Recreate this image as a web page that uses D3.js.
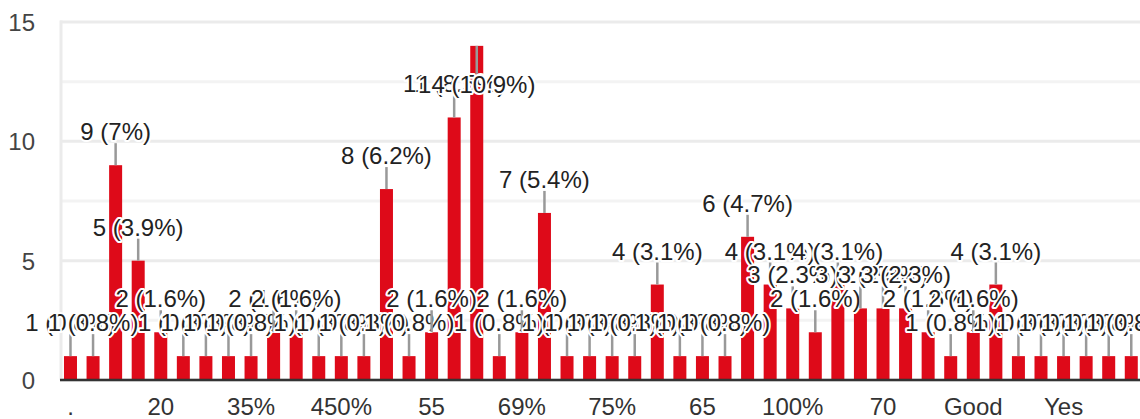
<!DOCTYPE html>
<html>
<head>
<meta charset="utf-8">
<script src="https://cdn.jsdelivr.net/npm/d3@7"></script>
<style>
  html, body { margin: 0; padding: 0; background: #fff; }
  svg { display: block; }
  text { font-family: "Liberation Sans", Arial, sans-serif; }
</style>
</head>
<body>
<svg id="chart" width="1140" height="419"></svg>
<script>
// Response counts, one per answer (left to right)
const counts = [1, 1, 9, 5, 2, 1, 1, 1, 1, 2, 2, 1, 1, 1, 8, 1, 2, 11, 14, 1, 2, 7, 1, 1, 1, 1, 4, 1, 1, 1, 6, 4, 3, 2, 4, 3, 3, 3, 2, 1, 2, 4, 1, 1, 1, 1, 1, 1];
// Category labels shown on the x axis (every fourth answer is labelled)
const tickLabels = [".", "20", "35%", "450%", "55", "69%", "75%", "65", "100%", "70", "Good", "Yes"];
const tickEvery = 4;
const yTicks = [0, 5, 10, 15];
const yGrid = [0, 2.5, 5, 7.5, 10, 12.5, 15];

(function () {
const total = d3.sum(counts);
const svg = d3.select("#chart");
const W = 1140;
const plotLeft = 59.2, plotTop = 22, plotBottom = 380;
const step = 22.57;

const x = d3.scaleBand()
  .domain(d3.range(counts.length))
  .range([plotLeft, plotLeft + step * counts.length])
  .paddingInner(0.424)
  .paddingOuter(0.212);
const y = d3.scaleLinear().domain([0, 15]).range([plotBottom, plotTop]);

// gridlines
svg.append("g").selectAll("line").data(yGrid).join("line")
  .attr("x1", 60).attr("x2", W)
  .attr("y1", d => y(d)).attr("y2", d => y(d))
  .attr("stroke", d => d % 5 === 0 ? "#ebebeb" : "#f3f3f3")
  .attr("stroke-width", 3);
svg.append("line")
  .attr("x1", 61).attr("x2", 61).attr("y1", plotTop - 1.5).attr("y2", plotBottom)
  .attr("stroke", "#ebebeb").attr("stroke-width", 3);

// y axis labels
const yAxis = d3.axisLeft(y).tickValues(yTicks).tickSize(0).tickPadding(0);
const gy = svg.append("g").attr("transform", "translate(35,0)").call(yAxis);
gy.select(".domain").remove();
gy.selectAll("text")
  .attr("font-size", 24).attr("fill", "#444")
  .attr("font-family", "'Liberation Sans', Arial, sans-serif")
  .attr("dy", "0.35em");

// bars
svg.append("g").selectAll("rect").data(counts).join("rect")
  .attr("x", (d, i) => x(i))
  .attr("y", d => y(d))
  .attr("width", x.bandwidth())
  .attr("height", d => y(0) - y(d))
  .attr("fill", "#de0a19");

// baseline
svg.append("line")
  .attr("x1", 60).attr("x2", W).attr("y1", plotBottom).attr("y2", plotBottom)
  .attr("stroke", "#333").attr("stroke-width", 2.5);

// x axis labels
const xAxis = d3.axisBottom(x)
  .tickValues(d3.range(0, counts.length, tickEvery))
  .tickFormat((d) => tickLabels[d / tickEvery])
  .tickSize(0).tickPadding(0);
const gx = svg.append("g").attr("transform", `translate(0,${plotBottom})`).call(xAxis);
gx.select(".domain").remove();
gx.selectAll("text")
  .attr("font-size", 24).attr("fill", "#333")
  .attr("font-family", "'Liberation Sans', Arial, sans-serif")
  .attr("dy", null).attr("y", 35);

// annotations with stems
const fmt = v => {
  const p = Math.round(v / total * 1000) / 10;
  return `${v} (${p}%)`;
};
const ann = svg.append("g");
counts.forEach((v, i) => {
  const cx = x(i) + x.bandwidth() / 2;
  const yt = y(v);
  let base, s1, s2;
  if (yt - 25 - 18 < plotTop) {
    base = yt + 47; s1 = yt; s2 = yt + 28;
  } else {
    base = yt - 25; s1 = yt; s2 = yt - 22;
  }
  ann.append("line")
    .attr("x1", cx).attr("x2", cx).attr("y1", s1).attr("y2", s2)
    .attr("stroke", "#999").attr("stroke-width", 2.5);
  ann.append("text")
    .attr("x", cx).attr("y", base)
    .attr("text-anchor", "middle")
    .attr("font-size", 24)
    .attr("fill", "#222")
    .attr("stroke", "#fff").attr("stroke-width", 4)
    .attr("stroke-linejoin", "round")
    .attr("paint-order", "stroke")
    .text(fmt(v));
});
})();
</script>
</body>
</html>
